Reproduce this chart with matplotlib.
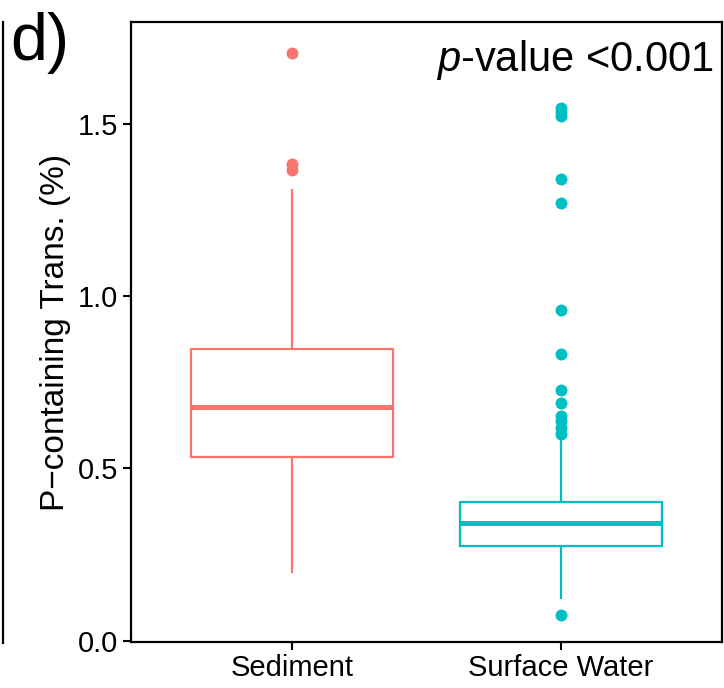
import matplotlib
matplotlib.use("Agg")
from matplotlib import pyplot as plt
from matplotlib.lines import Line2D

plt.rcParams['font.family'] = ['Liberation Sans', 'DejaVu Sans']
plt.rcParams['mathtext.fontset'] = 'custom'
plt.rcParams['mathtext.it'] = 'Liberation Sans:italic'
plt.rcParams['mathtext.rm'] = 'Liberation Sans'

# box statistics
groups = ["Sediment", "Surface Water"]
colors = ["#F8766D", "#00BFC4"]
q1 = [0.532, 0.275]
med = [0.678, 0.340]
q3 = [0.846, 0.403]
whislo = [0.200, 0.125]
whishi = [1.307, 0.585]
fliers = [
    [1.705, 1.382, 1.366],
    [0.075, 1.545, 1.535, 1.522, 1.338, 1.270, 0.958, 0.832,
     0.726, 0.690, 0.652, 0.638, 0.617, 0.600],
]
yticks = [0.0, 0.5, 1.0, 1.5]

fig = plt.figure(figsize=(7.24, 6.88), dpi=100)
ax = fig.add_axes([131 / 724, 1 - 642 / 688, 591 / 724, 620 / 688])

for i, g in enumerate(groups):
    st = dict(label=g, q1=q1[i], med=med[i], q3=q3[i],
              whislo=whislo[i], whishi=whishi[i], fliers=[])
    c = colors[i]
    ax.bxp([st], positions=[i + 1], widths=0.75, showcaps=False,
           boxprops=dict(color=c, linewidth=1.6),
           whiskerprops=dict(color=c, linewidth=1.6),
           medianprops=dict(color=c, linewidth=3.6, solid_capstyle='butt'),
           manage_ticks=False)
    ax.plot([i + 1] * len(fliers[i]), fliers[i], 'o', color=c,
            markersize=8.6, markeredgewidth=0, zorder=3)

ax.set_xlim(0.4, 2.6)
ax.set_ylim(-0.004, 1.795)
ax.set_xticks([1, 2])
ax.set_xticklabels(groups)
ax.set_yticks(yticks)
ax.set_yticklabels([f"{v:.1f}" for v in yticks])
ax.tick_params(labelsize=21, length=6, width=1.5, pad=3, colors='black')
for s in ax.spines.values():
    s.set_linewidth(1.6)

ax.set_ylabel("P\u2212containing Trans. (%)", fontsize=24, labelpad=5)
ax.text(0.985, 0.975, r"$p$-value <0.001", transform=ax.transAxes,
        ha='right', va='top', fontsize=30)

fig.text(10 / 724, 1 - 12 / 688, "d)", fontsize=48, ha='left', va='top')
fig.add_artist(Line2D([3 / 724, 3 / 724], [1 - 22 / 688, 1 - 643 / 688],
                      color='black', linewidth=1.6))

fig.savefig("out.png", dpi=100)
